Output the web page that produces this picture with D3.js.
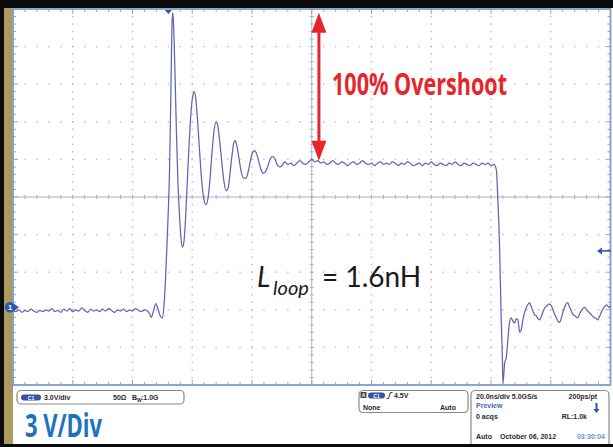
<!DOCTYPE html>
<html>
<head>
<meta charset="utf-8">
<script src="https://cdn.jsdelivr.net/npm/d3@7/dist/d3.min.js"></script>
<style>
  html, body { margin: 0; padding: 0; background: #fff; }
  svg { display: block; }
</style>
</head>
<body>
<svg id="scope" width="613" height="447"></svg>
<script>
// Scope settings
const nsPerDiv = 20;            // horizontal scale
const voltsPerDiv = 3;          // vertical scale (C1)
const timeDivs = 10;
const voltDivs = 10;
const timeWindowNs = [-100, 100];
const voltWindow = [-6.2, 23.8];
const triggerTimeNs = -48;
const triggerLevelV = 4.5;
const overshootPeakV = 23.5;
const settledV = 11.7;

// C1 waveform, [time in ns, volts]
const baselineTrace = [
  [-100,-0.25],[-99,-0.35],[-98,-0.2],[-97,-0.4],[-96,-0.25],[-95,-0.35],[-94,-0.15],[-93,-0.3],
  [-92,-0.4],[-91,-0.25],[-90,-0.35],[-89,-0.2],[-88,-0.3],[-87,-0.1],[-86,-0.35],[-85,-0.25],
  [-84,-0.4],[-83,-0.15],[-82,-0.3],[-81,-0.1],[-80,-0.35],[-79,-0.2],[-78,-0.3],[-77,-0.05],
  [-76,-0.25],[-75,-0.4],[-74,-0.15],[-73,-0.3],[-72,-0.2],[-71,-0.35],[-70,-0.15],[-69,-0.3],
  [-68,-0.1],[-67,-0.25],[-66,-0.4],[-65,-0.2],[-64,-0.3],[-63,-0.15],[-62,-0.35],[-61,-0.2],
  [-60,-0.3],[-59,-0.1],[-58,-0.25],[-57,-0.35],[-56,-0.2],[-55,-0.3]
];
const ringingTrace = [
  [-54.3,-0.5],[-53.7,-0.8],[-53,-0.3],[-52.2,0.3],[-51.5,-0.1],[-50.7,-0.7],[-50,-0.85],
  [-49.5,0.0],[-49.0,2.0],[-48.5,4.8],[-48.0,7.8],[-47.6,11.0],[-47.3,15.0],[-47.0,19.5],
  [-46.8,22.3],[-46.6,23.5],[-46.4,23.2],[-46.1,21.5],[-45.7,18.0],[-45.3,14.0],[-44.8,10.0],
  [-44.3,7.5],[-43.8,5.6],[-43.3,4.8],[-42.8,5.2],[-42.3,6.8],[-41.7,9.8],[-41,13.3],
  [-40.3,15.9],[-39.7,17.0],[-39.3,17.2],[-38.8,16.6],[-38.2,14.8],[-37.5,12.3],[-36.8,10.0],
  [-36.1,8.6],[-35.4,8.2],[-34.8,8.6],[-34.1,10.1],[-33.4,12.3],[-32.7,14.1],[-32.0,14.8],
  [-31.4,14.4],[-30.7,13.0],[-30.0,11.3],[-29.3,9.9],[-28.7,9.3],[-28.0,9.5],[-27.4,10.6],
  [-26.7,12.1],[-26.1,13.1],[-25.6,13.3],[-25,12.8],[-24.3,11.8],[-23.6,10.8],[-22.8,10.3],
  [-22,10.3],[-21.3,10.8],[-20.6,11.6],[-19.9,12.3],[-19.1,12.5],[-18.4,12.2],[-17.7,11.6],
  [-17,11.0],[-16.2,10.7],[-15.5,10.8],[-14.8,11.2],[-14.1,11.7],[-13.4,12.0],[-12.8,12.0],
  [-12.1,11.7],[-11.4,11.3],[-10.7,11.2],[-10,11.3]
];
const plateauTrace = [
  [-9,11.6],[-8,11.4],[-7,11.5],[-6,11.3],[-5,11.5],[-4,11.7],[-3,11.5],[-2,11.4],[-1,11.6],
  [0,11.8],[1,11.6],[2,11.7],[3,11.5],[4,11.6],[5,11.4],[6,11.5],[7,11.7],[8,11.5],[9,11.4],
  [10,11.6],[11,11.5],[12,11.3],[13,11.5],[14,11.6],[15,11.4],[16,11.5],[17,11.7],[18,11.5],
  [19,11.4],[20,11.5],[21,11.3],[22,11.5],[23,11.6],[24,11.4],[25,11.5],[26,11.4],[27,11.6],
  [28,11.5],[29,11.3],[30,11.5],[31,11.4],[32,11.6],[33,11.5],[34,11.3],[35,11.4],[36,11.5],
  [37,11.3],[38,11.5],[39,11.4],[40,11.6],[41,11.4],[42,11.3],[43,11.5],[44,11.4],[45,11.3],
  [46,11.5],[47,11.4],[48,11.6],[49,11.4],[50,11.3],[51,11.5],[52,11.4],[53,11.3],[54,11.5],
  [55,11.4],[56,11.3],[57,11.5],[58,11.4],[59,11.5],[60,11.3],[61,11.4]
];
const fallTrace = [
  [61.8,10.95],[62.3,8.56],[62.9,4.57],[63.4,-0.77],[63.8,-3.97],[64.0,-6.05],[64.6,-4.4],
  [65.1,-4.05],[65.7,-2.4],[66.2,-1.2],[66.8,-0.85],[67.3,-1.1],[67.9,-1.25],[68.4,-0.9],
  [69,-1.0],[69.6,-2.0],[70.1,-1.8],[70.6,-1.1],[71.2,-0.45],[71.7,-0.1],[72.3,0.2],[72.9,0.35],
  [73.4,0.1],[74,-0.3],[74.6,-0.6],[75.2,-0.7],[75.7,-0.9],[76.3,-1.0],[76.9,-0.7],[77.5,-0.3],
  [78.1,0.0],[78.7,0.1],[79.3,0.25],[80,0.2],[80.6,-0.1],[81.2,-0.5],[81.8,-0.8],[82.4,-1.1],
  [83,-1.2],[83.6,-0.8],[84.2,-0.3],[84.8,0.1],[85.4,0.35],[85.7,0.35],[86.3,0.0],[86.9,-0.3],
  [87.5,-0.6],[88.2,-0.7],[89,-0.85],[89.7,-0.5],[90.4,-0.2],[91.3,0.0],[92,-0.2],[92.8,-0.4],
  [93.6,-0.6],[94.4,-0.8],[95.2,-0.9],[95.7,-1.0],[96.4,-0.7],[97.1,-0.3],[97.8,0.0],[98.7,0.2],
  [99.4,0.0],[100,0.1]
];

const svg = d3.select("#scope");
const W = 613, H = 447;
const plot = { left: 13, right: 610.5, top: 9, bottom: 385 };

const x = d3.scaleLinear().domain(timeWindowNs).range([plot.left, plot.right]);
const y = d3.scaleLinear().domain(voltWindow).range([plot.bottom, plot.top]);

// bezel
svg.append("rect").attr("width", W).attr("height", H).attr("fill", "#fff");
svg.append("rect").attr("x", 0).attr("y", 0).attr("width", W).attr("height", 8).attr("fill", "#0b0b0b");
svg.append("rect").attr("x", 0).attr("y", 0).attr("width", 4).attr("height", H).attr("fill", "#0b0b0b");
svg.append("rect").attr("x", 4).attr("y", 8).attr("width", 9).attr("height", H - 8).attr("fill", "#ac9a5e");
svg.append("rect").attr("x", 0).attr("y", 444).attr("width", W).attr("height", 3).attr("fill", "#0b0b0b");

// graticule
const g = svg.append("g");
const minorT = nsPerDiv / 5, minorV = voltsPerDiv / 5;
const divT = d3.range(0, timeDivs + 1).map(i => timeWindowNs[0] + i * nsPerDiv);
const divV = d3.range(0, voltDivs + 1).map(i => voltWindow[0] + i * voltsPerDiv);
const subT = d3.range(0, timeDivs * 5 + 1).map(i => timeWindowNs[0] + i * minorT);
const subV = d3.range(0, voltDivs * 5 + 1).map(i => voltWindow[0] + i * minorV);
const centerT = (timeWindowNs[0] + timeWindowNs[1]) / 2;
const centerV = (voltWindow[0] + voltWindow[1]) / 2;

// dotted grid
divV.slice(1, -1).forEach(v => {
  if (Math.abs(v - centerV) < 1e-6) return;
  subT.forEach(t => g.append("rect").attr("x", x(t) - 0.7).attr("y", y(v) - 0.7)
    .attr("width", 1.4).attr("height", 1.4).attr("fill", "#b9b9b9"));
});
divT.slice(1, -1).forEach(t => {
  if (Math.abs(t - centerT) < 1e-6) return;
  subV.forEach(v => g.append("rect").attr("x", x(t) - 0.7).attr("y", y(v) - 0.7)
    .attr("width", 1.4).attr("height", 1.4).attr("fill", "#b9b9b9"));
});

// centre crosshair
const cross = "#a9b0c4";
g.append("line").attr("x1", plot.left).attr("x2", plot.right).attr("y1", y(centerV)).attr("y2", y(centerV))
  .attr("stroke", cross).attr("stroke-width", 1);
g.append("line").attr("x1", x(centerT)).attr("x2", x(centerT)).attr("y1", plot.top).attr("y2", plot.bottom)
  .attr("stroke", cross).attr("stroke-width", 1);
subT.forEach(t => g.append("line").attr("x1", x(t)).attr("x2", x(t))
  .attr("y1", y(centerV) - 2).attr("y2", y(centerV) + 2).attr("stroke", cross));
subV.forEach(v => g.append("line").attr("x1", x(centerT) - 2).attr("x2", x(centerT) + 2)
  .attr("y1", y(v)).attr("y2", y(v)).attr("stroke", cross));

// frame ticks
const tickCol = "#9aa3b6";
subT.forEach((t, i) => {
  const len = i % 5 === 0 ? 5 : 3;
  g.append("line").attr("x1", x(t)).attr("x2", x(t)).attr("y1", plot.top).attr("y2", plot.top + len).attr("stroke", tickCol);
  g.append("line").attr("x1", x(t)).attr("x2", x(t)).attr("y1", plot.bottom).attr("y2", plot.bottom - len).attr("stroke", tickCol);
});
subV.forEach((v, i) => {
  const len = i % 5 === 0 ? 5 : 3;
  g.append("line").attr("x1", plot.left).attr("x2", plot.left + len).attr("y1", y(v)).attr("y2", y(v)).attr("stroke", tickCol);
  g.append("line").attr("x1", plot.right).attr("x2", plot.right - len).attr("y1", y(v)).attr("y2", y(v)).attr("stroke", tickCol);
});

// frame
g.append("rect").attr("x", plot.left).attr("y", plot.top)
  .attr("width", plot.right - plot.left).attr("height", plot.bottom - plot.top)
  .attr("fill", "none").attr("stroke", "#7f9ccc").attr("stroke-width", 1.8);

// trace
const trace = baselineTrace.concat(ringingTrace, plateauTrace, fallTrace);
const line = d3.line().x(d => x(d[0])).y(d => y(d[1])).curve(d3.curveMonotoneX);
svg.append("path").attr("d", line(trace)).attr("fill", "none")
  .attr("stroke", "#6065b0").attr("stroke-width", 1.25).attr("stroke-linejoin", "round");

// markers: trigger position, trigger level, channel ground
const mk = "#2f56b0";
svg.append("path").attr("d", d3.line()([[x(triggerTimeNs) - 3.5, plot.top + 1], [x(triggerTimeNs) + 3.5, plot.top + 1], [x(triggerTimeNs), plot.top + 5]]))
  .attr("fill", mk);
const ty = y(triggerLevelV);
svg.append("line").attr("x1", 601).attr("x2", 611).attr("y1", ty).attr("y2", ty).attr("stroke", mk).attr("stroke-width", 1.6);
svg.append("path").attr("d", d3.line()([[597, ty], [602, ty - 3.5], [602, ty + 3.5]])).attr("fill", mk);
const gy = y(0);
svg.append("path").attr("d", d3.line()([[19, gy], [14, gy - 3.5], [14, gy + 3.5]])).attr("fill", mk);
svg.append("circle").attr("cx", 10).attr("cy", gy).attr("r", 5.2).attr("fill", mk);
svg.append("text").attr("x", 10).attr("y", gy + 2.6).attr("text-anchor", "middle")
  .attr("font-family", "Liberation Sans, Arial, sans-serif").attr("font-size", 7.5).attr("font-weight", 700)
  .attr("fill", "#fff").text("1");

// overshoot annotation
const red = "#e5262b";
const ax = x(2.4);
const yTop = y(overshootPeakV), yBot = y(settledV);
svg.append("line").attr("x1", ax).attr("x2", ax).attr("y1", yTop + 12).attr("y2", yBot - 12)
  .attr("stroke", red).attr("stroke-width", 3);
svg.append("path").attr("d", d3.line()([[ax, yTop], [ax - 7.5, yTop + 20], [ax + 7.5, yTop + 20]])).attr("fill", red);
svg.append("path").attr("d", d3.line()([[ax, yBot], [ax - 7.5, yBot - 20], [ax + 7.5, yBot - 20]])).attr("fill", red);
svg.append("text").attr("x", 332).attr("y", 95)
  .attr("font-family", "Open Sans, Liberation Sans, sans-serif").attr("font-weight", 700).attr("font-size", 30)
  .attr("textLength", 175).attr("lengthAdjust", "spacingAndGlyphs").attr("fill", red)
  .text("100% Overshoot");

// loop inductance label
const lt = svg.append("text").attr("font-family", "Lato, Open Sans, sans-serif").attr("fill", "#1a1a1a");
lt.append("tspan").attr("x", 257).attr("y", 287).attr("font-size", 28).attr("font-style", "italic").text("L");
lt.append("tspan").attr("x", 273).attr("y", 295).attr("font-size", 20).attr("font-style", "italic").text("loop");
lt.append("tspan").attr("x", 322).attr("y", 287).attr("font-size", 28).text("= 1.6nH");

// status panel
const sf = "Liberation Sans, Arial, sans-serif";
const box = (x0, y0, w, h) => svg.append("rect").attr("x", x0).attr("y", y0).attr("width", w).attr("height", h)
  .attr("rx", 4).attr("fill", "#fff").attr("stroke", "#8a8a8a").attr("stroke-width", 1.2);
const txt = (s, x0, y0, opts = {}) => svg.append("text").attr("x", x0).attr("y", y0)
  .attr("font-family", sf).attr("font-size", opts.size || 7).attr("font-weight", 700)
  .attr("fill", opts.fill || "#2a2a2a").attr("text-anchor", opts.anchor || "start").text(s);
const pill = (x0, y0, w) => {
  svg.append("rect").attr("x", x0).attr("y", y0).attr("width", w).attr("height", 6).attr("rx", 3).attr("fill", "#3b4fa3");
  txt("C1", x0 + w / 2, y0 + 5, { size: 5, fill: "#fff", anchor: "middle" });
};

box(17, 390.5, 167, 13.5);
pill(21, 394.5, 20);
txt("3.0V/div", 44, 400);
txt("50Ω", 113, 400);
txt("B", 132, 400);
txt("W", 137, 402, { size: 5 });
txt(":1.0G", 141, 400);

svg.append("text").attr("x", 25).attr("y", 437)
  .attr("font-family", "Open Sans, Liberation Sans, sans-serif").attr("font-weight", 700).attr("font-size", 33)
  .attr("textLength", 77).attr("lengthAdjust", "spacingAndGlyphs").attr("fill", "#1c72bd").text("3 V/Div");

box(359, 390.5, 109, 22);
svg.append("rect").attr("x", 360.5).attr("y", 392).attr("width", 6).attr("height", 6).attr("fill", "#444");
txt("A", 363.5, 397, { size: 5, fill: "#fff", anchor: "middle" });
pill(368, 392.5, 17);
svg.append("path").attr("d", "M386.5,398.5 L388.5,398.5 L390.5,392.5 L392.5,392.5").attr("fill", "none")
  .attr("stroke", "#333").attr("stroke-width", 1);
txt("4.5V", 394, 398);
txt("None", 363, 410);
txt("Auto", 440, 410);

box(471, 390.5, 138, 58);
txt("20.0ns/div  5.0GS/s", 476, 399);
txt("200ps/pt", 597, 399, { anchor: "end" });
txt("Preview", 476, 408, { fill: "#4a63c0" });
txt("0 acqs", 476, 419);
txt("RL:1.0k", 587, 419, { anchor: "end" });
svg.append("line").attr("x1", 596.5).attr("x2", 596.5).attr("y1", 403).attr("y2", 410).attr("stroke", "#2d4fb0").attr("stroke-width", 2);
svg.append("path").attr("d", "M593.5,409 L599.5,409 L596.5,413 Z").attr("fill", "#2d4fb0");
txt("Auto", 476, 439);
txt("October 06, 2012", 500, 439);
txt("03:30:04", 605, 439, { anchor: "end", fill: "#6d8fd2" });

// redraw the lower bezel edge over the panel box
svg.append("rect").attr("x", 0).attr("y", 444).attr("width", W).attr("height", 3).attr("fill", "#0b0b0b");
</script>
</body>
</html>
